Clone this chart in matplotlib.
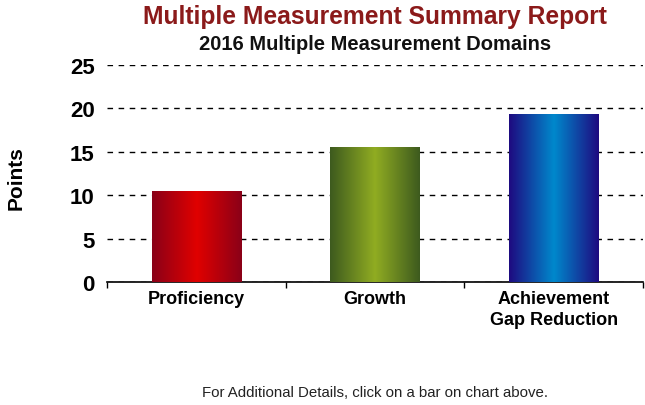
import matplotlib
matplotlib.use("Agg")
import matplotlib.pyplot as plt
import numpy as np
from matplotlib.colors import LinearSegmentedColormap

categories = ["Proficiency", "Growth", "Achievement\nGap Reduction"]
values = [10.5, 15.55, 19.35]
edge_colors = ["#8a0018", "#3d5a1e", "#1e0a80"]
center_colors = ["#e00000", "#90ac22", "#0088cc"]
yticks = [0, 5, 10, 15, 20, 25]

plt.rcParams['font.family'] = ['Liberation Sans', 'DejaVu Sans']

fig = plt.figure(figsize=(6.45, 4.06), dpi=100)
ax = fig.add_axes([107/645, 1-283/406, (643-107)/645, (283-66)/406])

x = np.arange(len(categories))
bars = ax.bar(x, values, width=0.5, color="none", edgecolor="none", zorder=3)

grad = np.linspace(0, 1, 256)
grad = 1 - np.abs(grad - 0.5) * 2  # 0 at edges, 1 at center
grad = grad[np.newaxis, :]
for b, ec, cc in zip(bars, edge_colors, center_colors):
    cmap = LinearSegmentedColormap.from_list("g", [ec, cc])
    x0, y0 = b.get_x(), b.get_y()
    w, h = b.get_width(), b.get_height()
    im = ax.imshow(grad, cmap=cmap, aspect="auto", extent=[x0, x0 + w, y0, y0 + h],
                   zorder=3, interpolation="bilinear")
    im.set_clip_path(b)

ax.set_xlim(-0.5, 2.5)
ax.set_ylim(0, 25)
ax.set_yticks(yticks)
ax.set_yticklabels([str(t) for t in yticks], fontsize=16, fontweight="bold")
ax.yaxis.grid(True, linestyle=(0, (4, 4)), color="black", linewidth=1.0, zorder=0)
ax.set_axisbelow(True)
ax.tick_params(axis="y", length=0, pad=9)

ax.set_xticks(x)
ax.set_xticklabels(categories, fontsize=13, fontweight="bold", linespacing=1.3)
ax.tick_params(axis="x", length=0, pad=6)
ax.set_xticks([-0.5, 0.5, 1.5, 2.5], minor=True)
ax.tick_params(axis="x", which="minor", length=4, width=1, direction="out", color="black")

for s in ["top", "right", "left"]:
    ax.spines[s].set_visible(False)
ax.spines["bottom"].set_color("black")
ax.spines["bottom"].set_linewidth(1.2)

fig.text(16/645, 1-178/406, "Points", rotation=90, fontsize=15, fontweight="bold",
         ha="center", va="center")
fig.text(375/645, 1-17/406, "Multiple Measurement Summary Report", fontsize=17.7,
         fontweight="bold", color="#8b1a1a", ha="center", va="center")
fig.text(375/645, 1-44/406, "2016 Multiple Measurement Domains", fontsize=14.5,
         fontweight="bold", color="#111111", ha="center", va="center")
fig.text(375/645, 1-393/406, "For Additional Details, click on a bar on chart above.",
         fontsize=10.8, color="#222222", ha="center", va="center")

fig.savefig("out.png", dpi=100)
